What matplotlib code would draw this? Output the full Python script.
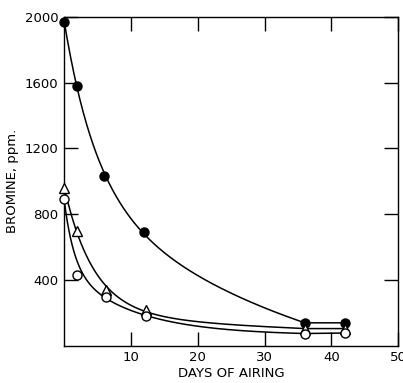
import matplotlib
matplotlib.use("Agg")
import matplotlib.pyplot as plt
import numpy as np

# days of airing and bromine residue (ppm) for the three samples
days_filled = [0, 2, 6, 12, 36, 42]
bromine_filled = [1970, 1580, 1030, 690, 140, 140]

days_triangle = [0, 2, 6.3, 12.3, 36, 42]
bromine_triangle = [960, 700, 340, 220, 105, 105]

days_open = [0, 2, 6.3, 12.3, 36, 42]
bromine_open = [890, 430, 295, 180, 75, 78]

# how much each point pulls on the hand-drawn curve (2-day open point is off the curve)
weights_filled = [1, 1, 1, 1, 5, 0]
weights_triangle = [1, 1, 1, 1, 5, 0]
weights_open = [1, 0.05, 1, 1, 5, 0]

xticks = [10, 20, 30, 40, 50]
yticks = [400, 800, 1200, 1600, 2000]


def fit_decay(x, y, w):
    """Weighted fit of y = a*exp(-x/t1) + b*exp(-x/t2) + c (a, b >= 0)."""
    x = np.asarray(x, float)
    y = np.asarray(y, float)
    w = np.sqrt(np.asarray(w, float))
    best = None
    for t1 in np.linspace(1.5, 8, 66):
        for t2 in np.linspace(4, 40, 73):
            if t2 <= t1:
                continue
            A = np.column_stack([np.exp(-x / t1), np.exp(-x / t2), np.ones_like(x)])
            coef, *_ = np.linalg.lstsq(A * w[:, None], y * w, rcond=None)
            if coef[0] < 0 or coef[1] < 0:
                continue
            err = np.sum(((A @ coef - y) * w) ** 2)
            if best is None or err < best[0]:
                best = (err, t1, t2, coef)
    _, t1, t2, (a, b, c) = best
    return lambda xx: a * np.exp(-xx / t1) + b * np.exp(-xx / t2) + c


fig = plt.figure(figsize=(4.03, 3.83), dpi=100)
ax = fig.add_axes([0.159, 0.097, 0.829, 0.859])

for x, y, w, style in [
    (days_filled, bromine_filled, weights_filled, dict(marker='o', mfc='black', ms=6.5)),
    (days_triangle, bromine_triangle, weights_triangle, dict(marker='^', mfc='white', ms=7.5)),
    (days_open, bromine_open, weights_open, dict(marker='o', mfc='white', ms=6.5)),
]:
    f = fit_decay(x, y, w)
    xs = np.linspace(0, x[-2], 300)
    # smooth curve up to day 36, then a straight join to the last point
    cx = np.append(xs, x[-1])
    cy = np.append(f(xs), y[-1])
    cy[-2] = y[-2]
    ax.plot(cx, cy, color='black', lw=1.1, zorder=2)
    ax.plot(x, y, linestyle='none', mec='black', mew=1.0, zorder=3,
            clip_on=False, **style)

ax.set_xlim(0, 50)
ax.set_ylim(0, 2000)
ax.set_xticks(xticks)
ax.set_yticks(yticks)
ax.tick_params(direction='in', length=10, width=1, top=True, right=True,
               labelsize=9.5, pad=4)
for s in ax.spines.values():
    s.set_linewidth(1.0)

ax.set_xlabel('DAYS OF AIRING', fontsize=9.5, labelpad=2)
ax.set_ylabel('BROMINE, ppm.', fontsize=9.5, labelpad=4)

fig.savefig('out.png', dpi=100)
